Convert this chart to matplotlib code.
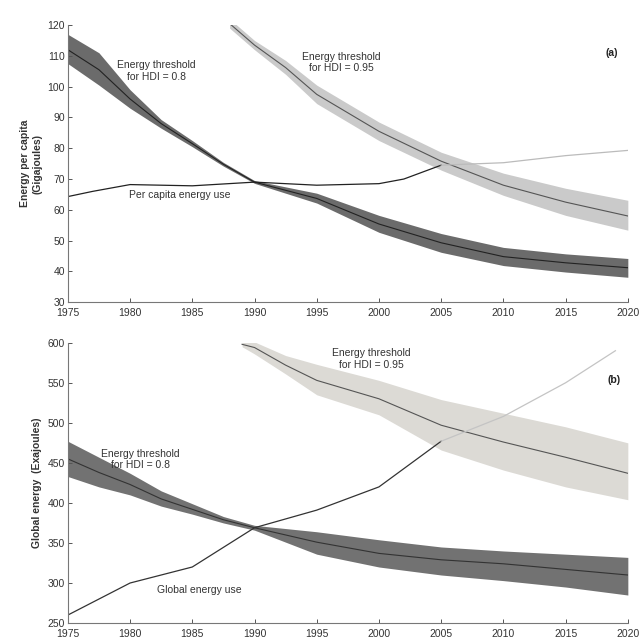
import matplotlib
matplotlib.use("Agg")
import matplotlib.pyplot as plt

plt.rcParams['font.family'] = ['Liberation Sans', 'DejaVu Sans']

years = [1975, 1977.5, 1980, 1982.5, 1985, 1987.5, 1990, 1995, 2000, 2005, 2010, 2015, 2020]
hi_years = [1988, 1990, 1992.5, 1995, 2000, 2005, 2010, 2015, 2020]
hi_years_b = [1989, 1990, 1992.5, 1995, 2000, 2005, 2010, 2015, 2020]

# (a) energy per capita, GJ
pc_years_obs = [1975, 1977, 1980, 1985, 1990, 1995, 2000, 2002, 2005]
pc_obs = [64.3, 66.0, 68.2, 67.8, 69.0, 68.0, 68.5, 70.0, 74.5]
pc_years_proj = [2005, 2010, 2015, 2020]
pc_proj = [74.5, 75.3, 77.6, 79.3]

a80_lo = [107.5, 100.5, 93.0, 86.5, 80.5, 74.2, 68.6, 62.2, 52.7, 46.2, 41.9, 39.8, 38.1]
a80_mid = [112.0, 105.5, 96.0, 88.0, 81.5, 74.8, 69.0, 63.7, 55.4, 49.3, 44.8, 42.8, 41.2]
a80_hi = [117.0, 111.0, 99.0, 89.3, 82.5, 75.4, 69.5, 65.4, 58.2, 52.3, 47.8, 45.7, 44.2]

a95_lo = [119.0, 112.0, 104.0, 94.5, 82.5, 72.9, 64.7, 58.2, 53.4]
a95_mid = [120.5, 113.5, 106.2, 97.5, 85.5, 75.8, 68.0, 62.5, 58.0]
a95_hi = [122.0, 115.0, 108.5, 100.5, 88.5, 78.7, 71.9, 67.0, 63.1]

# (b) global energy, EJ
ge_years_obs = [1975, 1980, 1985, 1990, 1995, 2000, 2005]
ge_obs = [260, 300, 320, 369, 391, 420, 477]
ge_years_proj = [2005, 2010, 2015, 2019]
ge_proj = [477, 508, 550, 590]

b80_lo = [433, 420, 410, 396, 386, 375, 366, 336, 320, 310, 303, 295, 285]
b80_mid = [455, 438, 423, 405, 392, 379, 369, 351, 337, 329, 324, 317, 310]
b80_hi = [477, 457, 437, 415, 399, 383, 372, 364, 354, 345, 340, 336, 332]

b95_lo = [595, 586, 561, 535, 510, 466, 441, 420, 404]
b95_mid = [598, 594, 572, 553, 530, 497, 476, 457, 437]
b95_hi = [601, 601, 584, 573, 553, 529, 512, 495, 475]

xticks = [1975, 1980, 1985, 1990, 1995, 2000, 2005, 2010, 2015, 2020]

fig = plt.figure(figsize=(6.4, 6.43), dpi=100)
ax1 = fig.add_axes([0.106, 0.530, 0.875, 0.431])
ax2 = fig.add_axes([0.106, 0.031, 0.875, 0.436])

FS = 7.5


def style(ax, ylim, yticks):
    ax.set_xlim(1975, 2020)
    ax.set_ylim(*ylim)
    ax.set_xticks(xticks)
    ax.set_yticks(yticks)
    for s in ('top', 'right'):
        ax.spines[s].set_visible(False)
    for s in ('left', 'bottom'):
        ax.spines[s].set_color('#777777')
        ax.spines[s].set_linewidth(0.8)
    ax.tick_params(direction='in', length=3, width=0.7, color='#555555',
                   labelsize=FS, labelcolor='#333333', pad=2)
    ax.tick_params(axis='x', pad=4)


# panel (a)
ax1.fill_between(years, a80_lo, a80_hi, color='#6b6b6b', lw=0)
ax1.plot(years, a80_mid, color='#222222', lw=0.8)
ax1.fill_between(hi_years, a95_lo, a95_hi, color='#cacaca', lw=0)
ax1.plot(hi_years, a95_mid, color='#555555', lw=0.8)
ax1.plot(pc_years_obs, pc_obs, color='#222222', lw=0.9)
ax1.plot(pc_years_proj, pc_proj, color='#bbbbbb', lw=0.9)
style(ax1, (30, 120), list(range(30, 121, 10)))
ax1.set_ylabel('Energy per capita\n(Gigajoules)', fontsize=FS, fontweight='bold',
               color='#333333', labelpad=4)
ax1.text(1982.1, 105.0, 'Energy threshold\nfor HDI = 0.8', fontsize=FS,
         ha='center', va='center', color='#333333')
ax1.text(1997.0, 107.8, 'Energy threshold\nfor HDI = 0.95', fontsize=FS,
         ha='center', va='center', color='#333333')
ax1.text(1984.0, 64.8, 'Per capita energy use', fontsize=FS,
         ha='center', va='center', color='#333333')
ax1.text(2018.7, 111.0, '(a)', fontsize=FS, fontweight='bold',
         ha='center', va='center', color='#222222')

# panel (b)
ax2.fill_between(years, b80_lo, b80_hi, color='#727272', lw=0)
ax2.plot(years, b80_mid, color='#333333', lw=0.8)
ax2.fill_between(hi_years_b, b95_lo, b95_hi, color='#dcdad5', lw=0)
ax2.plot(hi_years_b, b95_mid, color='#555555', lw=0.8)
ax2.plot(ge_years_obs, ge_obs, color='#333333', lw=0.9)
ax2.plot(ge_years_proj, ge_proj, color='#c4c4c4', lw=0.9)
style(ax2, (250, 600), list(range(250, 601, 50)))
ax2.set_ylabel('Global energy  (Exajoules)', fontsize=FS, fontweight='bold',
               color='#333333', labelpad=4)
ax2.text(1980.8, 454, 'Energy threshold\nfor HDI = 0.8', fontsize=FS,
         ha='center', va='center', color='#333333')
ax2.text(1999.4, 580, 'Energy threshold\nfor HDI = 0.95', fontsize=FS,
         ha='center', va='center', color='#333333')
ax2.text(1985.6, 291, 'Global energy use', fontsize=FS,
         ha='center', va='center', color='#333333')
ax2.text(2018.9, 554, '(b)', fontsize=FS, fontweight='bold',
         ha='center', va='center', color='#222222')

fig.savefig('out.png', dpi=100, facecolor='white')
